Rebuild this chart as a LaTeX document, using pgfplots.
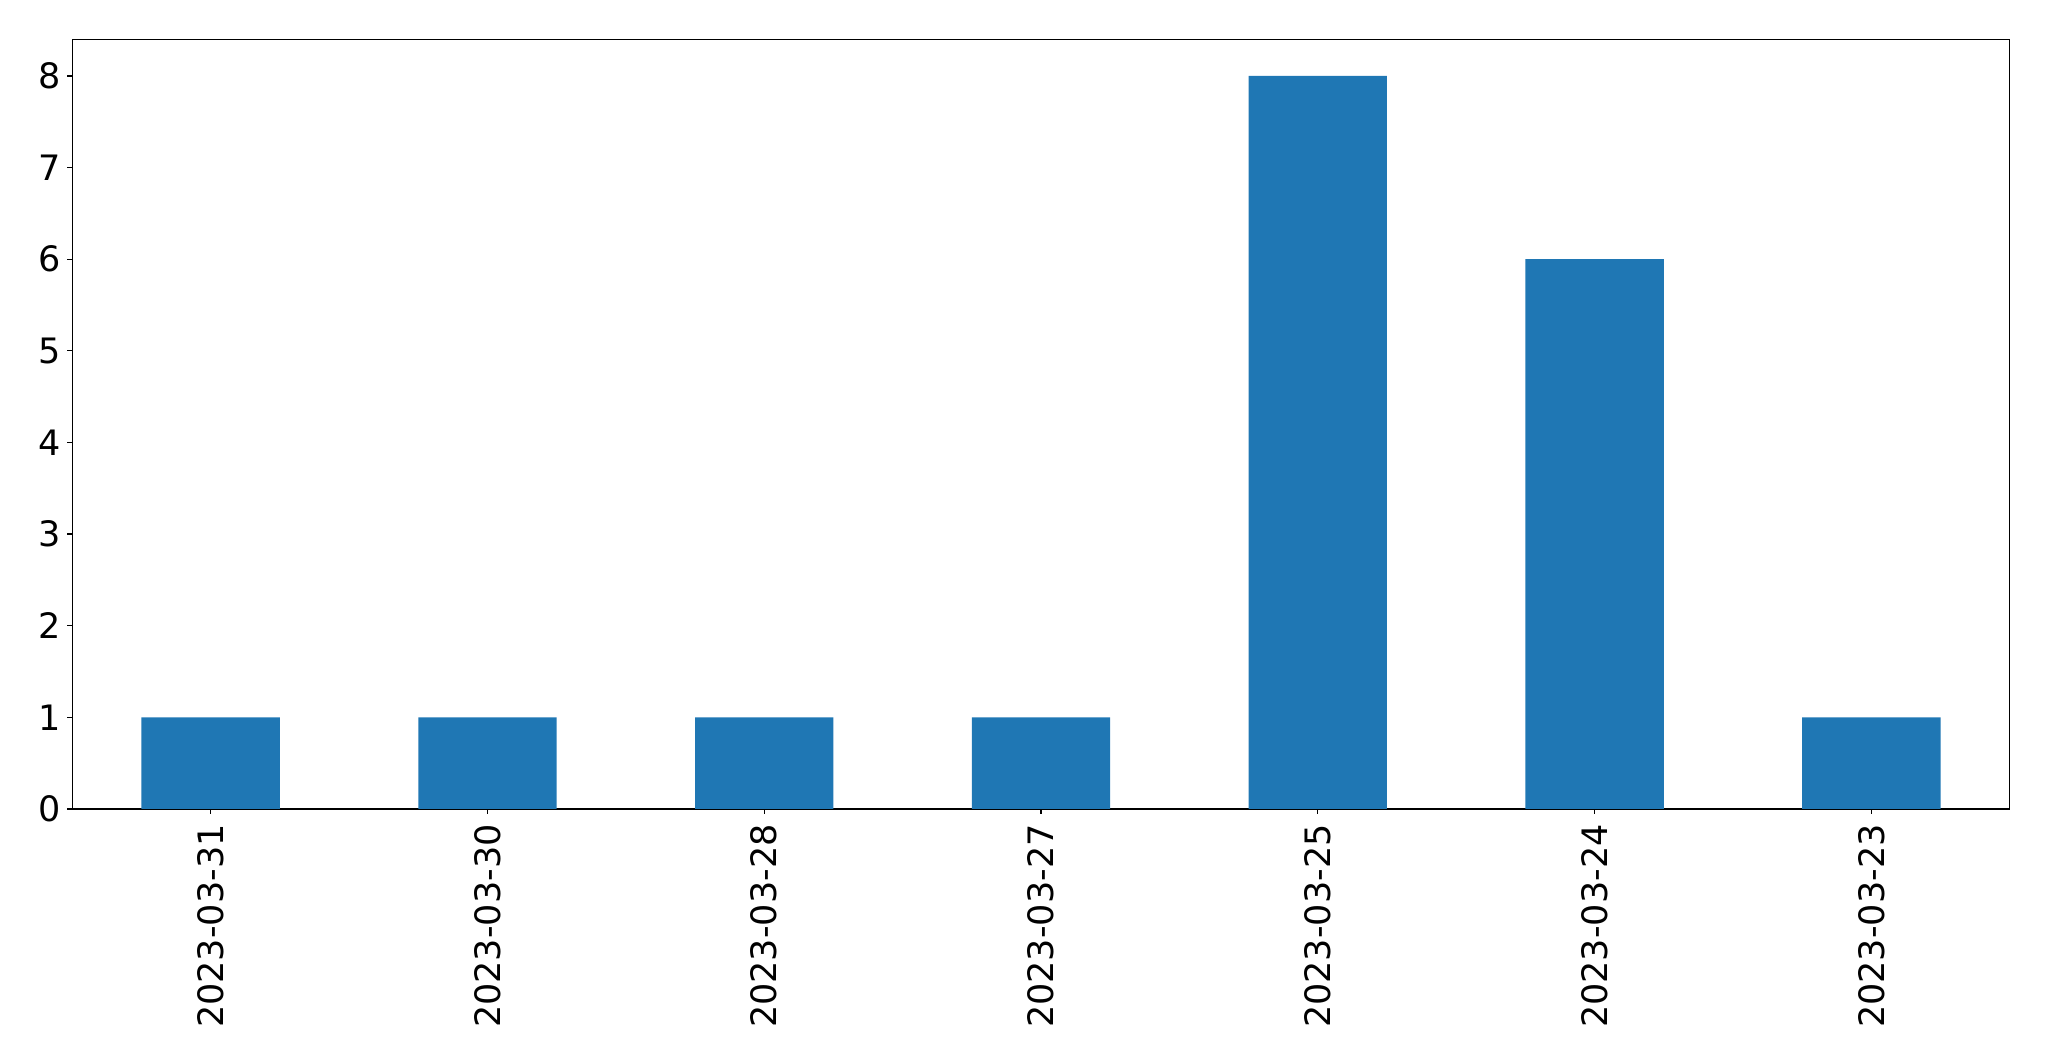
\documentclass[border=0pt]{standalone}
\usepackage{fontspec}
\setmainfont{DejaVu Sans}
\usepackage{pgfplots}
\pgfplotsset{compat=1.18}
\definecolor{tabblue}{HTML}{1F77B4}
\begin{document}
\fontsize{17.5}{21}\selectfont
\begin{tikzpicture}
\begin{axis}[
  scale only axis, width=968.7pt, height=384.85pt,
  xmin=-0.5, xmax=6.5, ymin=0, ymax=8.4,
  ybar, bar width=0.5,
  xtick={0,1,2,3,4,5,6},
  xticklabels={2023-03-31,2023-03-30,2023-03-28,2023-03-27,2023-03-25,2023-03-24,2023-03-23},
  ytick={0,1,2,3,4,5,6,7,8},
  tick align=outside, major tick length=2.5pt, tick pos=left,
  axis line style={line width=0.6pt},
  major tick style={line width=0.6pt, black},
  /pgf/number format/assume math mode=true,
  tick label style={font=\fontsize{17.5}{21}\selectfont},
  x tick label style={rotate=90, anchor=east, inner sep=0pt, xshift=-5pt},
  y tick label style={inner sep=0pt, xshift=-3.3pt},
  axis on top=false,
]
\addplot[fill=tabblue, draw=none] coordinates {(0,1) (1,1) (2,1) (3,1) (4,8) (5,6) (6,1)};
\end{axis}
\path (current axis.south west) +(-36.15pt,-126pt) rectangle ([shift={(19.65pt,19.65pt)}]current axis.north east);
\end{tikzpicture}
\end{document}
